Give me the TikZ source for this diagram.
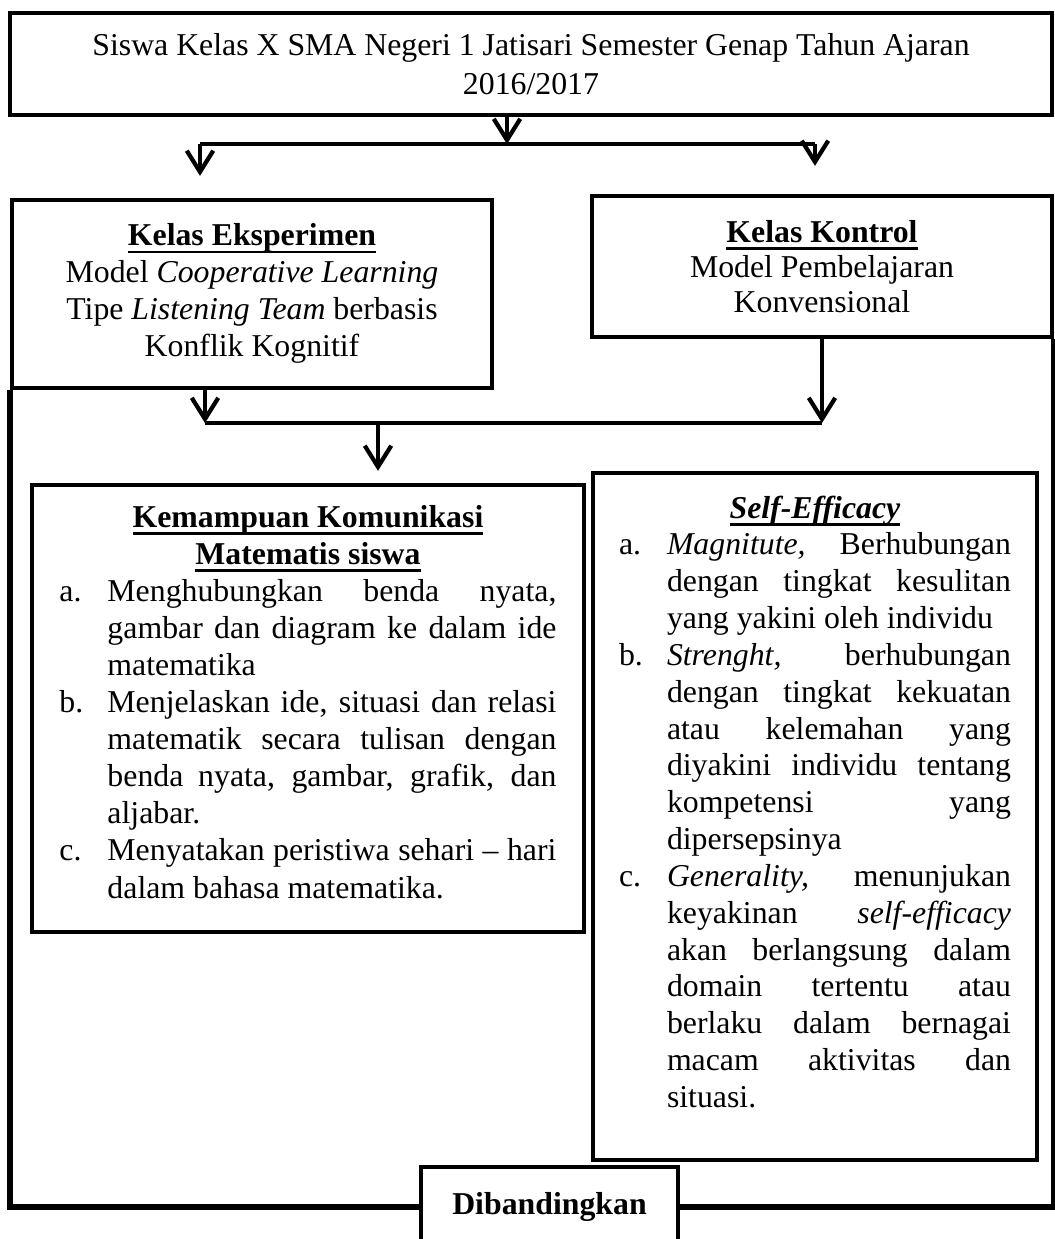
\documentclass[tikz,border=0pt]{standalone}
\usepackage{fontspec}
\setmainfont{Liberation Serif}
\usetikzlibrary{positioning, arrows.meta}

\newlength{\pxl}
\setlength{\pxl}{0.3774pt}
\newsavebox{\ulsave}
\newcommand{\ulbox}[1]{\leavevmode\sbox{\ulsave}{#1}\rlap{\vrule height -2.0pt depth 2.9pt width \wd\ulsave}\usebox{\ulsave}}
\newcommand{\pointitem}[2]{\par\noindent\hangindent=48\pxl\hangafter=1\makebox[48\pxl][l]{#1}#2\par}

\begin{document}
\begin{tikzpicture}[x=\pxl, y=-\pxl,
        sqnode/.style={draw, line width=1.6pt, inner sep=0pt, align=center, font=\fontsize{12}{14}\selectfont},
        lstnode/.style={sqnode, align=justify, execute at begin node={\hyphenpenalty=10000\exhyphenpenalty=10000}},
        carrow/.style={line width=1.6pt, -{Straight Barb[length=8pt,width=10pt]}},
        bar/.style={line width=1.6pt},
        frameline/.style={line width=2pt}]
    \useasboundingbox (0,0) rectangle (1055,1239);
    \draw (531,64) node[sqnode, minimum width=1042\pxl, minimum height=102\pxl, font=\fontsize{12}{15}\selectfont] (top) {Siswa Kelas X SMA Negeri 1 Jatisari Semester Genap Tahun Ajaran\\2016/2017}
          (252,294) node[sqnode, minimum width=480\pxl, minimum height=188\pxl] (eks) {\ulbox{\textbf{Kelas Eksperimen}}\\Model \textit{Cooperative Learning}\\Tipe \textit{Listening Team} berbasis\\Konflik Kognitif\rule[-8\pxl]{0pt}{0pt}}
          (822,266.5) node[sqnode, minimum width=460\pxl, minimum height=141\pxl, font=\fontsize{12}{13.3}\selectfont] (kon) {\ulbox{\textbf{Kelas Kontrol}}\\Model Pembelajaran\\Konvensional}
          (308,708.5) node[lstnode, text width=497\pxl, minimum width=552\pxl, minimum height=447\pxl] (kem) {{\centering\ulbox{\textbf{Kemampuan Komunikasi}}\\\ulbox{\textbf{Matematis siswa}}\par}
              \pointitem{a.}{Menghubungkan benda nyata, \linebreak gambar dan diagram ke dalam ide \linebreak matematika}
              \pointitem{b.}{Menjelaskan ide, situasi dan relasi \linebreak matematik secara tulisan dengan \linebreak benda nyata, gambar, grafik, dan \linebreak aljabar.}
              \pointitem{c.}{Menyatakan peristiwa sehari -- hari \linebreak dalam bahasa matematika.\rule[-14\pxl]{0pt}{0pt}}}
          (815,816.5) node[lstnode, text width=392\pxl, minimum width=444\pxl, minimum height=687\pxl, font=\fontsize{12}{13.9}\selectfont] (self) {{\centering\ulbox{\textbf{\textit{Self-Efficacy}}}\par}
              \pointitem{a.}{\textit{Magnitute,} Berhubungan \linebreak dengan tingkat kesulitan \linebreak yang yakini oleh individu}
              \pointitem{b.}{\textit{Strenght,} berhubungan \linebreak dengan tingkat kekuatan \linebreak atau kelemahan yang \linebreak diyakini individu tentang \linebreak kompetensi yang \linebreak dipersepsinya}
              \pointitem{c.}{\textit{Generality,} menunjukan \linebreak keyakinan \textit{self-efficacy} \linebreak akan berlangsung dalam \linebreak domain tertentu atau \linebreak berlaku dalam bernagai \linebreak macam aktivitas dan \linebreak situasi.\rule[-30\pxl]{0pt}{0pt}}}
          (549.5,1207) node[sqnode, minimum width=257\pxl, minimum height=80\pxl] (dib) {\textbf{Dibandingkan}\rule[-6\pxl]{0pt}{0pt}};
    % split below the title
    \coordinate (b0) at (507,144);
    \coordinate (b1) at (200,144);
    \coordinate (b2) at (815,144);
    \draw[bar] (b1) -- (b2);
    \draw[carrow] (top.south -| b0) -- (b0);
    \draw[carrow, shorten >=22\pxl] (b1) -- (b1 |- eks.north);
    \draw[carrow, shorten >=28\pxl] (b2) -- (b2 |- kon.north);
    % join of the two classes
    \coordinate (c0) at (378,423);
    \coordinate (c1) at (205,423);
    \coordinate (c2) at (822,423);
    \draw[bar] (c1) -- (c2);
    \draw[carrow] (eks.south -| c1) -- (c1);
    \draw[carrow] (kon.south -| c2) -- (c2);
    \draw[carrow, shorten >=12\pxl] (c0) -- (c0 |- kem.north);
    % outer frame to the comparison
    \draw[frameline] (eks.south west) -- (eks.south west |- dib.west) -- (dib.west);
    \draw[frameline] (kon.south east) -- (kon.south east |- dib.east) -- (dib.east);
\end{tikzpicture}
\end{document}
